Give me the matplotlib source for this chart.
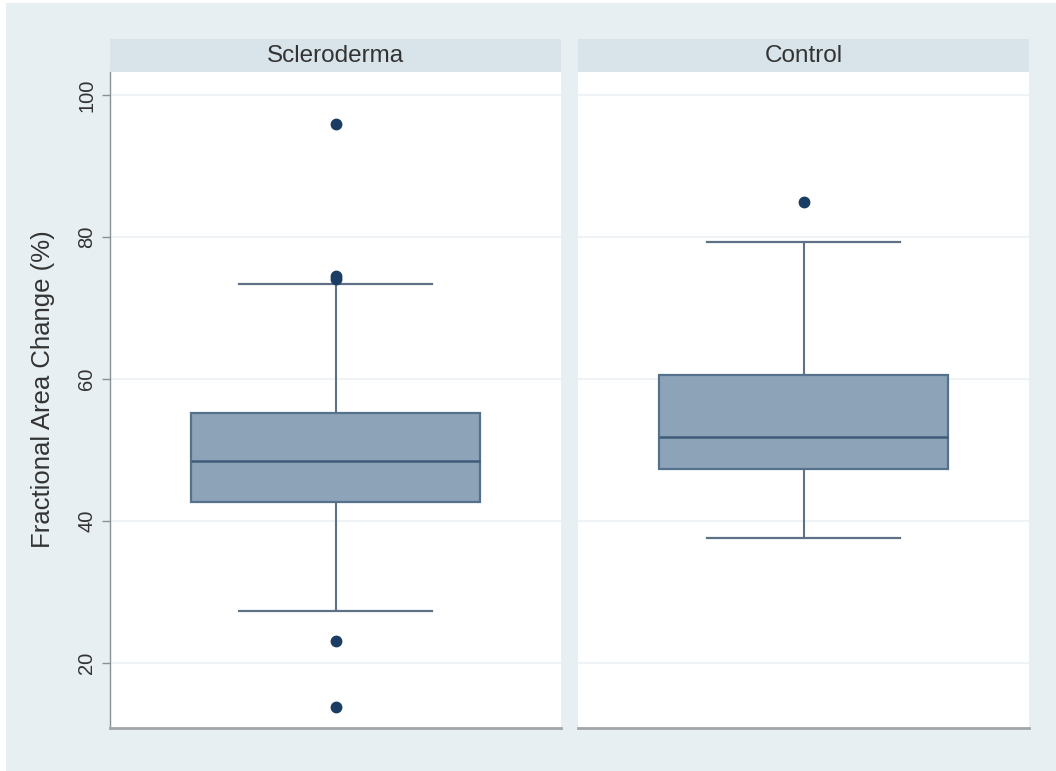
import matplotlib
matplotlib.use("Agg")
import matplotlib.pyplot as plt
from matplotlib.patches import Rectangle

plt.rcParams['font.family'] = ['Liberation Sans', 'DejaVu Sans']

# ---- data ----
groups = ["Scleroderma", "Control"]
q1 = [42.7, 47.3]
median = [48.5, 51.9]
q3 = [55.2, 60.6]
whisker_low = [27.4, 37.6]
whisker_high = [73.4, 79.3]
outliers_scleroderma = [95.9, 74.6, 74.1, 23.1, 13.9]
outliers_control = [85.0]
outliers = [outliers_scleroderma, outliers_control]
yticks = [20, 40, 60, 80, 100]
ylabel = "Fractional Area Change (%)"

# ---- style ----
BG = "#e8eff2"
STRIP = "#d8e3ea"
BOX_FILL = "#8ca3b8"
BOX_EDGE = "#56718c"
MED = "#3f5c78"
WHISK = "#5e7187"
DOT = "#1c3d63"
TXT = "#333333"

W, H = 1056, 771
fig = plt.figure(figsize=(W / 100, H / 100), dpi=100, facecolor="white")
fig.add_artist(Rectangle((6 / W, 0), 1 - 6 / W, 1 - 3 / H, transform=fig.transFigure,
                         facecolor=BG, edgecolor="none", zorder=-10))

ymin, ymax = 10.89, 103.28
panels_x = [(110, 561), (578, 1029)]
top_px, bot_px, strip_top_px = 72, 728, 39

for i, (g, (x0, x1)) in enumerate(zip(groups, panels_x)):
    ax = fig.add_axes([x0 / W, 1 - bot_px / H, (x1 - x0) / W, (bot_px - top_px) / H])
    ax.set_facecolor("white")
    stats = [dict(med=median[i], q1=q1[i], q3=q3[i], whislo=whisker_low[i],
                  whishi=whisker_high[i], fliers=outliers[i], label=g)]
    ax.bxp(stats, positions=[0], widths=0.643, capwidths=0.43, patch_artist=True,
           boxprops=dict(facecolor=BOX_FILL, edgecolor=BOX_EDGE, linewidth=1.6),
           medianprops=dict(color=MED, linewidth=1.8),
           whiskerprops=dict(color=WHISK, linewidth=1.5),
           capprops=dict(color=WHISK, linewidth=1.6),
           flierprops=dict(marker="o", markerfacecolor=DOT, markeredgecolor=DOT,
                           markersize=7.5, linestyle="none"))
    ax.set_xlim(-0.5, 0.5)
    ax.set_ylim(ymin, ymax)
    ax.set_xticks([])
    ax.set_yticks(yticks)
    ax.yaxis.grid(True, color="#edf1f3", linewidth=1.2)
    ax.set_axisbelow(True)
    for s in ["top", "right"]:
        ax.spines[s].set_visible(False)
    ax.spines["bottom"].set_color("#a3a6a9")
    ax.spines["bottom"].set_linewidth(2.0)
    if i == 0:
        ax.spines["left"].set_color("#8c8f93")
        ax.spines["left"].set_linewidth(1.0)
        ax.tick_params(axis="y", length=6, width=1, color="#8c8f93", pad=4,
                       labelsize=14.5, labelcolor=TXT, labelrotation=90)
        for lab in ax.get_yticklabels():
            lab.set_va("center")
        ax.set_ylabel(ylabel, fontsize=18.5, color=TXT)
        ax.yaxis.set_label_coords(-0.122, 0.517)
    else:
        ax.spines["left"].set_visible(False)
        ax.tick_params(axis="y", length=0, labelleft=False)

    sax = fig.add_axes([x0 / W, 1 - top_px / H, (x1 - x0) / W, (top_px - strip_top_px) / H])
    sax.set_facecolor(STRIP)
    sax.set_xticks([]); sax.set_yticks([])
    for s in sax.spines.values():
        s.set_visible(False)
    sax.text(0.5, 0.5, g, ha="center", va="center", fontsize=17.5, color=TXT,
             transform=sax.transAxes)

fig.savefig("out.png", dpi=100, facecolor="white")
